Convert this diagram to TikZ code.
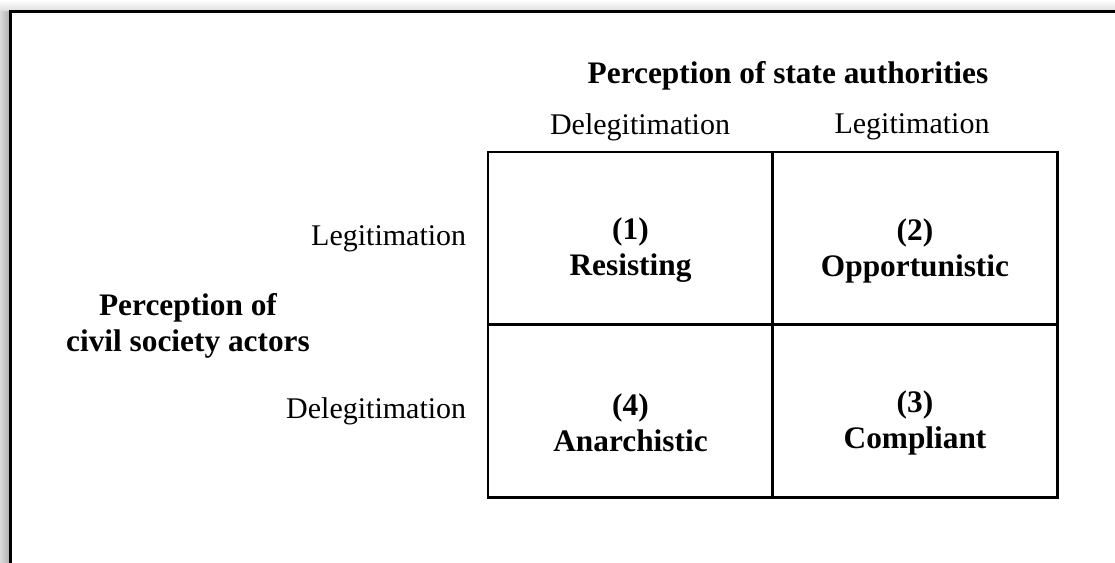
\documentclass[tikz,border=0pt]{standalone}
\usepackage{fontspec}
\setmainfont{Liberation Serif}
\usetikzlibrary{calc}

\begin{document}
\begin{tikzpicture}[
  x=0.75pt, y=-0.75pt,
  plain/.style={font=\fontsize{22.5}{27}\selectfont},
  heading/.style={align=center, font=\fontsize{23.5}{27}\selectfont\bfseries},
  cell/.style={draw, line width=1.7pt, minimum width=213.75pt, minimum height=129.75pt, inner sep=0pt},
  celltext/.style={align=center, font=\fontsize{23.5}{27}\selectfont\bfseries},
  frame/.style={line width=2.3pt}
]
\useasboundingbox (0,0) rectangle (1115,562);

% shadow round the frame
\shade[left color=black!14, right color=black!30] (0,10) rectangle (9,562);
\shade[top color=white, bottom color=black!12] (0,0) rectangle (1115,10);
\coordinate (framebl) at (10.5,580);
\coordinate (frametr) at (1130,11.5);
\draw[frame] (framebl) |- (frametr);

% headings
\node[heading] (statehead) at (788,76) {Perception of state authorities};
\node[plain] (topdeleg) at (640,127) {Delegitimation};
\node[plain] (topleg) at (912,127) {Legitimation};

% the four cells
\node[cell] (c1) at (630.5,238.5) {};
\node[cell] (c2) at (915,238.5) {};
\node[cell] (c4) at (630.5,411) {};
\node[cell] (c3) at (915,411) {};

\node[celltext] (t1) at ($(c1)+(0,12)$) {(1)\\Resisting};
\node[celltext] (t2) at ($(c2)+(0,12)$) {(2)\\Opportunistic};
\node[celltext] (t3) at ($(c3)+(0,12)$) {(3)\\Compliant};
\node[celltext] (t4) at ($(c4)+(0,12)$) {(4)\\Anarchistic};

% side labels
\node[plain, anchor=east] (leftleg) at ($(c1.west)+(-16,0)$) {Legitimation};
\node[plain, anchor=east] (leftdeleg) at ($(c4.west)+(-16,0)$) {Delegitimation};
\node[heading] (civilhead) at (188,326) {Perception of\\civil society actors};

\end{tikzpicture}
\end{document}
